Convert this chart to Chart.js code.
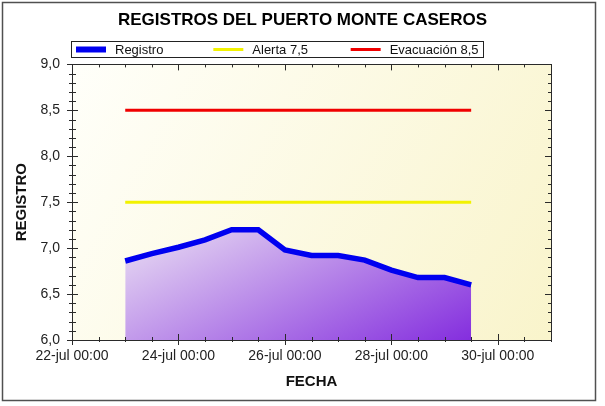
<!DOCTYPE html>
<html>
<head>
<meta charset="utf-8">
<script src="https://cdn.jsdelivr.net/npm/chart.js@4.4.0/dist/chart.umd.min.js"></script>
<style>
    html, body { margin: 0; padding: 0; background: #fff; }
    #contenedor { width: 605px; height: 406px; }
</style>
</head>
<body>
<div id="contenedor"><canvas id="grafico" width="605" height="406"></canvas></div>
<script>
// Datos
const titulo = 'REGISTROS DEL PUERTO MONTE CASEROS'
const fechas = [
    '2023-07-23T00:00', '2023-07-23T12:00', '2023-07-24T00:00', '2023-07-24T12:00',
    '2023-07-25T00:00', '2023-07-25T12:00', '2023-07-26T00:00', '2023-07-26T12:00',
    '2023-07-27T00:00', '2023-07-27T12:00', '2023-07-28T00:00', '2023-07-28T12:00',
    '2023-07-29T00:00', '2023-07-29T12:00'
]
const registro = [6.86, 6.94, 7.01, 7.09, 7.20, 7.20, 6.98, 6.92, 6.92, 6.87, 6.76, 6.68, 6.68, 6.60]
const alerta = [7.5, 7.5, 7.5, 7.5, 7.5, 7.5, 7.5, 7.5, 7.5, 7.5, 7.5, 7.5, 7.5, 7.5]
const evacuacion = [8.5, 8.5, 8.5, 8.5, 8.5, 8.5, 8.5, 8.5, 8.5, 8.5, 8.5, 8.5, 8.5, 8.5]
const etiquetas = ['Registro', 'Alerta 7,5', 'Evacuación 8,5']
const meses = ['ene', 'feb', 'mar', 'abr', 'may', 'jun', 'jul', 'ago', 'sep', 'oct', 'nov', 'dic']
const ejeXDesde = '2023-07-22T00:00'
const ejeXHasta = '2023-07-31T00:00'
const ejeYDesde = 6
const ejeYHasta = 9

const DIA = 24 * 3600 * 1000
const FUENTE = "'Liberation Sans', Arial, sans-serif"
const aMs = f => Date.parse(f + ':00Z')
const xMin = aMs(ejeXDesde)
const xMax = aMs(ejeXHasta)
const puntos = serie => serie.map((v, i) => ({x: aMs(fechas[i]), y: v}))

const dosDigitos = n => String(n).padStart(2, '0')
const formatoFecha = v => {
    const d = new Date(v)
    return `${dosDigitos(d.getUTCDate())}-${meses[d.getUTCMonth()]} ${dosDigitos(d.getUTCHours())}:${dosDigitos(d.getUTCMinutes())}`
}

// Degradado del área bajo el registro
function degradadoRegistro(context) {
    const chart = context.chart
    const a = chart.chartArea
    if (!a) return 'rgba(160,110,230,0.6)'
    const xs = chart.scales.x, ys = chart.scales.y
    const x0 = xs.getPixelForValue(aMs(fechas[0]))
    const x1 = xs.getPixelForValue(aMs(fechas[fechas.length - 1]))
    const y0 = ys.getPixelForValue(7.3)
    const L = ((x1 - x0) + 2 * (a.bottom - y0)) / 5
    const g = chart.ctx.createLinearGradient(x0, y0, x0 + L, y0 + 2 * L)
    g.addColorStop(0, '#eee6f4')
    g.addColorStop(1, '#842ede')
    return g
}

// Fondo del área de trazado y marco exterior
const fondo = {
    id: 'fondo',
    beforeDraw(chart) {
        const {ctx, chartArea: a} = chart
        ctx.save()
        ctx.fillStyle = '#ffffff'
        ctx.fillRect(0, 0, chart.width, chart.height)
        const g = ctx.createLinearGradient(a.left, a.top, a.right, a.bottom)
        g.addColorStop(0, '#fffffa')
        g.addColorStop(1, '#f9f4cb')
        ctx.fillStyle = g
        ctx.fillRect(a.left, a.top, a.right - a.left, a.bottom - a.top)
        ctx.strokeStyle = '#505050'
        ctx.lineWidth = 1.5
        ctx.strokeRect(2.5, 2.5, 593, 398)
        ctx.restore()
    }
}

// Marco del área y marcas de los ejes (mayores y menores)
const marcas = {
    id: 'marcas',
    afterDatasetsDraw(chart) {
        const {ctx, chartArea: a, scales: {x, y}} = chart
        ctx.save()
        ctx.strokeStyle = '#2a2a2a'
        ctx.lineWidth = 1
        ctx.beginPath()
        for (let i = 0; i <= (ejeYHasta - ejeYDesde) * 10; i++) {
            const py = Math.round(y.getPixelForValue(ejeYDesde + i * 0.1)) + 0.5
            const mayor = i % 5 === 0
            const l = mayor ? 5 : 3
            ctx.moveTo(a.left - l, py); ctx.lineTo(a.left + l + 1, py)
            ctx.moveTo(a.right - (mayor ? 6 : 3), py); ctx.lineTo(a.right, py)
        }
        for (let t = xMin, i = 0; t <= xMax; t += DIA / 2, i++) {
            const px = Math.round(x.getPixelForValue(t)) + 0.5
            const mayor = i % 4 === 0
            const l = mayor ? 5 : 2
            ctx.moveTo(px, a.bottom - l - 1); ctx.lineTo(px, a.bottom + l)
            ctx.moveTo(px, a.top); ctx.lineTo(px, a.top + (mayor ? 6 : 3))
        }
        ctx.stroke()
        ctx.strokeRect(Math.round(a.left) + 0.5, Math.round(a.top) + 0.5,
            Math.round(a.right - a.left), Math.round(a.bottom - a.top))
        ctx.restore()
    }
}

// Leyenda en caja con tres columnas iguales
const leyenda = {
    id: 'leyenda',
    afterDraw(chart) {
        const {ctx, chartArea: a} = chart
        const izq = Math.round(a.left) - 1, arriba = 41, ancho = 412, alto = 16
        const col = ancho / 3
        ctx.save()
        ctx.fillStyle = '#ffffff'
        ctx.fillRect(izq, arriba, ancho, alto)
        ctx.strokeStyle = '#222'
        ctx.lineWidth = 1
        ctx.strokeRect(izq + 0.5, arriba + 0.5, ancho, alto)
        chart.data.datasets.forEach((ds, i) => {
            const x0 = izq + i * col + 5
            const yc = arriba + alto / 2 + 0.5
            ctx.strokeStyle = ds.borderColor
            ctx.lineWidth = i === 0 ? 6 : 3
            ctx.beginPath()
            ctx.moveTo(x0, yc)
            ctx.lineTo(x0 + 30, yc)
            ctx.stroke()
            ctx.fillStyle = '#111'
            ctx.font = `13px ${FUENTE}`
            ctx.textBaseline = 'middle'
            ctx.textAlign = 'left'
            ctx.fillText(ds.label, x0 + 39, yc + 1)
        })
        ctx.restore()
    }
}

const ctx = document.getElementById('grafico').getContext('2d')
new Chart(ctx, {
    type: 'line',
    data: {
        datasets: [{
            label: etiquetas[0],
            data: puntos(registro),
            borderColor: '#0000f0',
            borderWidth: 5.5,
            backgroundColor: degradadoRegistro,
            fill: 'start',
            pointRadius: 0,
            tension: 0,
            order: 3
        }, {
            label: etiquetas[1],
            data: puntos(alerta),
            borderColor: '#f2f200',
            borderWidth: 3,
            pointRadius: 0,
            fill: false,
            order: 2
        }, {
            label: etiquetas[2],
            data: puntos(evacuacion),
            borderColor: '#f00000',
            borderWidth: 3,
            pointRadius: 0,
            fill: false,
            order: 1
        }]
    },
    options: {
        responsive: false,
        animation: false,
        devicePixelRatio: 1,
        layout: {padding: 0},
        plugins: {
            legend: {display: false},
            tooltip: {enabled: false},
            title: {
                display: true,
                text: titulo,
                color: '#000',
                font: {family: FUENTE, size: 17, weight: 'bold'},
                padding: {top: 10, bottom: 34}
            }
        },
        scales: {
            x: {
                type: 'linear',
                min: xMin,
                max: xMax,
                grid: {display: false, drawTicks: false},
                border: {display: false},
                afterBuildTicks: scale => {
                    const marcasX = []
                    for (let t = xMin; t <= xMax; t += 2 * DIA) marcasX.push({value: t})
                    scale.ticks = marcasX
                },
                afterFit: scale => { scale.height = 66 },
                ticks: {
                    padding: 8,
                    maxRotation: 0,
                    autoSkip: false,
                    color: '#222',
                    font: {family: FUENTE, size: 14},
                    callback: v => formatoFecha(v)
                },
                title: {
                    display: true,
                    text: 'FECHA',
                    color: '#111',
                    font: {family: FUENTE, size: 15, weight: 'bold'},
                    padding: {top: 0, bottom: 15}
                }
            },
            y: {
                min: ejeYDesde,
                max: ejeYHasta,
                grid: {display: false, drawTicks: false},
                border: {display: false},
                afterFit: scale => { scale.width = 72 },
                ticks: {
                    stepSize: 0.5,
                    padding: 12,
                    color: '#222',
                    font: {family: FUENTE, size: 14},
                    callback: v => v.toFixed(1).replace('.', ',')
                },
                title: {
                    display: true,
                    text: 'REGISTRO',
                    color: '#111',
                    font: {family: FUENTE, size: 15, weight: 'bold'},
                    padding: {top: 13, bottom: 0}
                }
            },
            derecha: {
                position: 'right',
                min: ejeYDesde,
                max: ejeYHasta,
                grid: {display: false, drawTicks: false},
                border: {display: false},
                ticks: {display: false},
                afterFit: scale => { scale.width = 54 }
            }
        }
    },
    plugins: [fondo, marcas, leyenda]
})
</script>
</body>
</html>
